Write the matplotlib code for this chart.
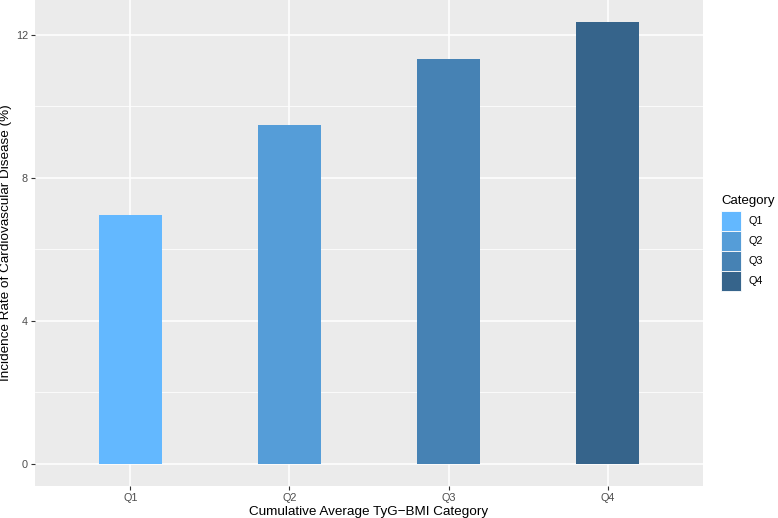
import numpy as np
import matplotlib
matplotlib.use("Agg")
import matplotlib.pyplot as plt
from matplotlib.patches import Patch

# -------------------------
# DATA
# -------------------------
categories = ["Q1", "Q2", "Q3", "Q4"]
incidence = [6.96, 9.47, 11.32, 12.36]
colors = ["#63B8FF", "#559DD8", "#4682B4", "#36648B"]

plt.rcParams["font.family"] = ["Liberation Sans", "DejaVu Sans"]

# -------------------------
# PLOT
# -------------------------
fig = plt.figure(figsize=(7.78, 5.18), dpi=100)
ax = fig.add_axes([35 / 778, 1 - 486 / 518, (703 - 35) / 778, 486 / 518])

x = np.arange(1, len(categories) + 1)
ax.set_facecolor("#EBEBEB")
ax.set_axisbelow(True)

ax.bar(x, incidence, width=0.4, color=colors, edgecolor="none", zorder=2)

ax.set_xlim(0.4, 4.6)
ymax = max(incidence) * 1.05
ax.set_ylim(-max(incidence) * 0.05, ymax)

ax.set_xticks(x)
ax.set_xticklabels(categories)
ax.set_yticks([0, 4, 8, 12])
ax.set_yticks([2, 6, 10], minor=True)

ax.grid(which="major", color="white", linewidth=1.1)
ax.grid(which="minor", axis="y", color="white", linewidth=0.55)
ax.tick_params(which="major", length=3, width=0.8, color="#333333",
               labelsize=7.8, labelcolor="#4D4D4D", pad=2)
ax.tick_params(which="minor", length=0)
for s in ax.spines.values():
    s.set_visible(False)

ax.set_xlabel("Cumulative Average TyG\u2212BMI Category", fontsize=9.7, labelpad=2)
ax.set_ylabel("Incidence Rate of Cardiovascular Disease (%)", fontsize=9.7, labelpad=3)

# -------------------------
# LEGEND
# -------------------------
handles = [Patch(facecolor=c, edgecolor="white", linewidth=0.6) for c in colors]
leg = fig.legend(handles, categories, title="Category", loc="upper left",
                 bbox_to_anchor=(721 / 778, 1 - 194.5 / 518), frameon=False,
                 fontsize=7.8, title_fontsize=9.5, handlelength=1.85,
                 handleheight=2.46, handletextpad=0.7, labelspacing=0.0,
                 borderaxespad=0, borderpad=0)
leg._legend_box.align = "left"
leg._legend_box.sep = 3

fig.savefig("out.png", dpi=100)
